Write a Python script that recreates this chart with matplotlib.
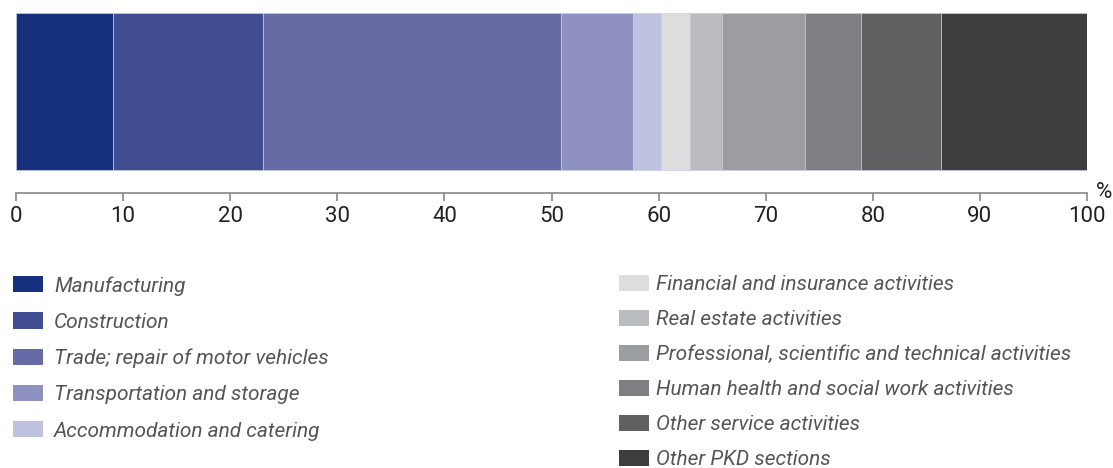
import matplotlib
matplotlib.use("Agg")
import matplotlib.pyplot as plt

categories = [
    "Manufacturing",
    "Construction",
    "Trade; repair of motor vehicles",
    "Transportation and storage",
    "Accommodation and catering",
    "Financial and insurance activities",
    "Real estate activities",
    "Professional, scientific and technical activities",
    "Human health and social work activities",
    "Other service activities",
    "Other PKD sections",
]
values = [9.05, 14.0, 27.85, 6.7, 2.6, 2.7, 3.0, 7.8, 5.2, 7.5, 13.6]
colors = ["#15317E", "#404E91", "#666AA5", "#8F92C0", "#BFC2DF",
          "#DCDDDF", "#BABBBF", "#9C9DA1", "#7E7F83", "#606062", "#3E3E3F"]
ticks = [0, 10, 20, 30, 40, 50, 60, 70, 80, 90, 100]

W, H = 1113, 468
fig = plt.figure(figsize=(W / 100, H / 100), dpi=100)
ax = fig.add_axes([16 / W, 1 - 193 / H, (1087 - 16) / W, 180 / H])

bars = []
left = 0
for c, v, col in zip(categories, values, colors):
    b = ax.barh(0, v, left=left, height=1, color=col, edgecolor="#C9CBE0",
                linewidth=0.5, label=c)
    bars.append(b)
    left += v

ybot = -0.5 - 23 / 157
ax.set_xlim(0, 100)
ax.set_ylim(ybot, 0.5)
ax.set_yticks([])
ax.set_xticks(ticks)
ax.set_xticklabels([str(t) for t in ticks], fontsize=16, family="Roboto",
                   color="#222222")
for s in ["top", "left", "right"]:
    ax.spines[s].set_visible(False)
ax.spines["bottom"].set_color("#888888")
ax.spines["bottom"].set_linewidth(1.2)
ax.tick_params(axis="x", direction="out", length=6, width=1.2,
               color="#888888", pad=3)
ax.text(1.0155, ybot + 0.0, "%", transform=ax.get_yaxis_transform(),
        fontsize=16, family="Roboto", color="#222222", ha="center",
        va="center")

leg_font = {"family": "Roboto", "style": "italic", "size": 15}
common = dict(loc="upper left", frameon=False, prop=leg_font,
              handlelength=1.44, handleheight=0.82, borderaxespad=0,
              borderpad=0)
l1 = fig.legend(handles=bars[:5], labels=categories[:5],
                bbox_to_anchor=(13 / W, 1 - 276 / H),
                handletextpad=0.53, labelspacing=0.81, **common)
l2 = fig.legend(handles=bars[5:], labels=categories[5:],
                bbox_to_anchor=(619 / W, 1 - 275 / H),
                handletextpad=0.34, labelspacing=0.75, **common)
for lg in (l1, l2):
    for t in lg.get_texts():
        t.set_color("#555558")
    for p in lg.get_patches():
        p.set_edgecolor("none")
        p.set_linewidth(0)

fig.savefig("out.png", dpi=100)
